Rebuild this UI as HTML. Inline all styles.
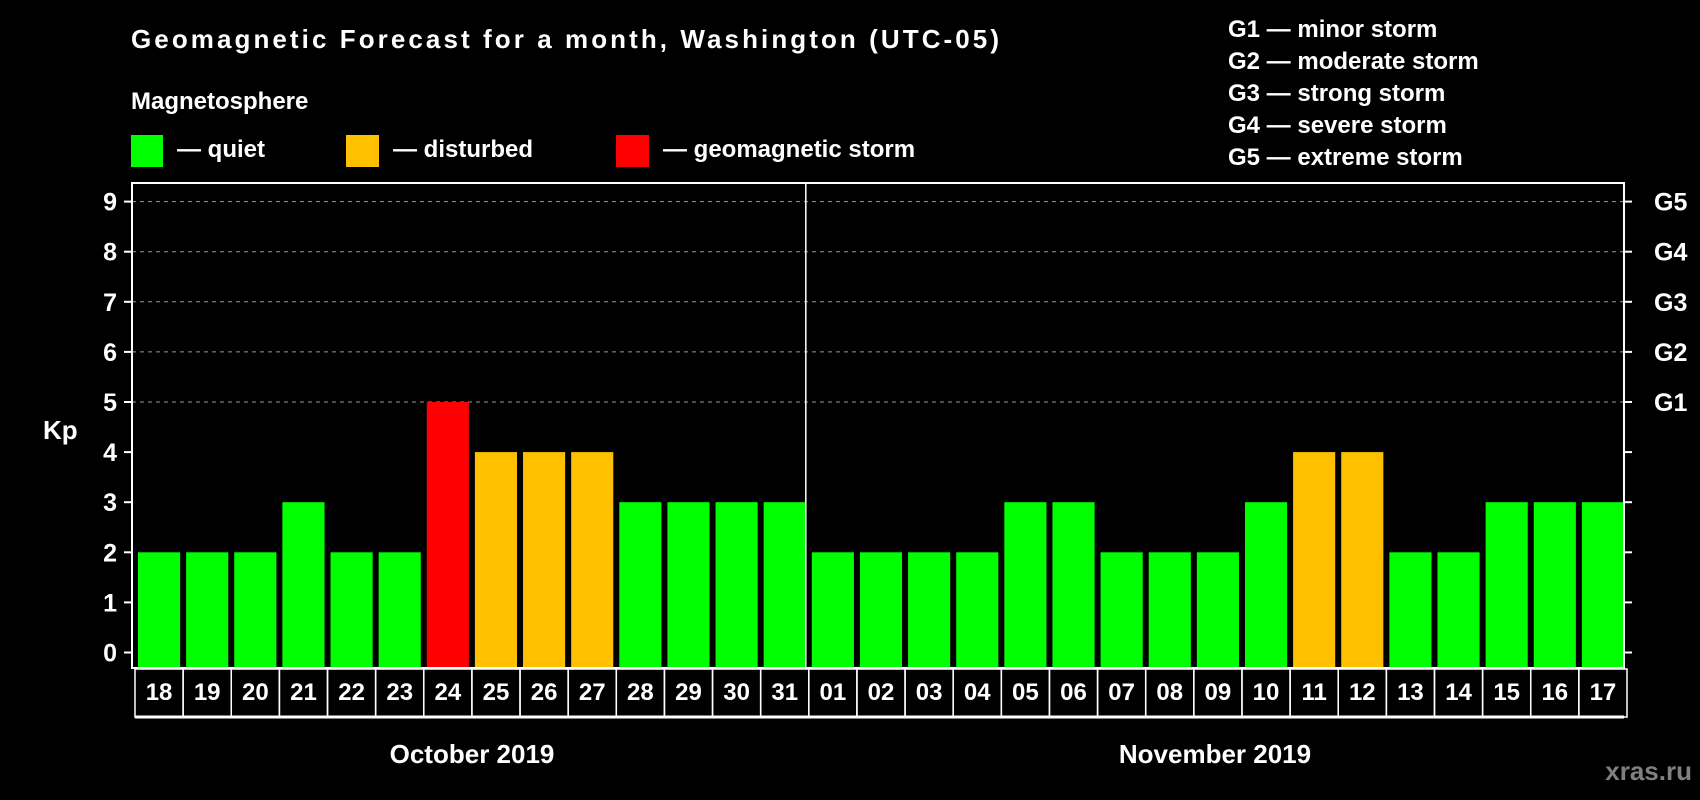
<!DOCTYPE html>
<html><head><meta charset="utf-8"><style>
html,body{margin:0;padding:0;background:#000;}
svg{display:block;font-family:"Liberation Sans",Arial,sans-serif;font-weight:bold;}
</style></head><body>
<svg id="chart" width="1700" height="800" viewBox="0 0 1700 800">
<rect x="0" y="0" width="1700" height="800" fill="#000"/>
<text x="131" y="48" fill="#fff" font-size="26" textLength="868">Geomagnetic Forecast for a month, Washington (UTC-05)</text>
<text x="131" y="109" fill="#fff" font-size="24">Magnetosphere</text>
<g><rect x="131" y="135" width="32" height="32" fill="#00ff00"/><text x="177" y="157" fill="#fff" font-size="24">— quiet</text></g>
<g><rect x="346" y="135" width="33" height="32" fill="#ffc000"/><text x="393" y="157" fill="#fff" font-size="24">— disturbed</text></g>
<g><rect x="616" y="135" width="33" height="32" fill="#ff0000"/><text x="663" y="157" fill="#fff" font-size="24">— geomagnetic storm</text></g>
<g font-size="24" fill="#fff">
<text x="1228" y="37">G1 — minor storm</text>
<text x="1228" y="69">G2 — moderate storm</text>
<text x="1228" y="101">G3 — strong storm</text>
<text x="1228" y="133">G4 — severe storm</text>
<text x="1228" y="165">G5 — extreme storm</text>
</g>
<text x="43" y="439" fill="#fff" font-size="26">Kp</text>
<text x="472" y="763" fill="#fff" font-size="26" text-anchor="middle">October 2019</text>
<text x="1215" y="763" fill="#fff" font-size="26" text-anchor="middle">November 2019</text>
<text x="1692" y="780" fill="#808080" font-size="26" text-anchor="end">xras.ru</text>
<g id="plot"></g>
</svg>
<script>
const days = ["18","19","20","21","22","23","24","25","26","27","28","29","30","31","01","02","03","04","05","06","07","08","09","10","11","12","13","14","15","16","17"];
const kpValues = [2,2,2,3,2,2,5,4,4,4,3,3,3,3,2,2,2,2,3,3,2,2,2,3,4,4,2,2,3,3,3];
const yTicks = [0,1,2,3,4,5,6,7,8,9];
const gLabels = ["G1","G2","G3","G4","G5"];
const gLevels = [5,6,7,8,9];

const NS = "http://www.w3.org/2000/svg";
const L = 132, R = 1624, T = 183, B = 668;
const y0 = 652.5, unit = 50.1;
const slot = (R - L) / days.length;
function y(v){ return y0 - v * unit; }
function x(i){ return L + i * slot; }
function color(v){ return v >= 5 ? "#ff0000" : (v >= 4 ? "#ffc000" : "#00ff00"); }
const g = document.getElementById("plot");
function mk(tag, attrs){ const e = document.createElementNS(NS, tag); for (const k in attrs) e.setAttribute(k, attrs[k]); g.appendChild(e); return e; }

// grid
gLevels.forEach(v => {
  const ln = mk("line", {x1: L, x2: R, y1: y(v), y2: y(v), stroke: "#999", "stroke-width": 1, "stroke-dasharray": "4,4"});
  
  
});
// bars
kpValues.forEach((v, i) => {
  const r = mk("rect", {x: x(i) + 6, y: y(v), width: slot - 6, height: B - y(v), fill: color(v)});
  
  
});
// frame
const fr = mk("rect", {x: L, y: T, width: R - L, height: B - T, fill: "none", stroke: "#fff", "stroke-width": 2});


const dv = mk("line", {x1: x(14), x2: x(14), y1: T, y2: B, stroke: "#fff", "stroke-width": 1.5});


// y ticks
yTicks.forEach(v => {
  const t1 = mk("line", {x1: L - 8, x2: L, y1: y(v), y2: y(v), stroke: "#fff", "stroke-width": 2});
  
  
  const t2 = mk("line", {x1: R, x2: R + 8, y1: y(v), y2: y(v), stroke: "#fff", "stroke-width": 2});
  
  
  const tl = mk("text", {x: 117, y: y(v) + 9, fill: "#fff", "font-size": 25, "text-anchor": "end"});
  tl.textContent = v;
  
  
});
gLabels.forEach((lab, i) => {
  const tl = mk("text", {x: 1654, y: y(gLevels[i]) + 9, fill: "#fff", "font-size": 25});
  tl.textContent = lab;
  
  
});
// date boxes
days.forEach((d, i) => {
  const bx = mk("rect", {x: x(i) + 3, y: B + 1, width: slot, height: 48, fill: "none", stroke: "#fff", "stroke-width": 1.5});
  
  
  const t = mk("text", {x: x(i) + 3 + slot / 2, y: 700, fill: "#fff", "font-size": 24, "text-anchor": "middle"});
  t.textContent = d;
  
  
});
const bl = mk("line", {x1: L + 3, x2: R, y1: 717, y2: 717, stroke: "#fff", "stroke-width": 3});


</script>
</body></html>
